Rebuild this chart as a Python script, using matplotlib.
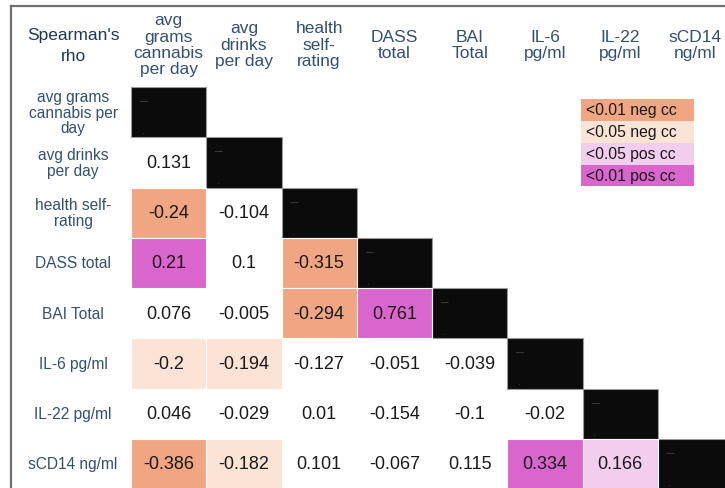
import matplotlib
matplotlib.use("Agg")
import matplotlib.pyplot as plt
from matplotlib.patches import Rectangle
from matplotlib.lines import Line2D

# Spearman correlation matrix (lower triangle only)
variables = [
    "avg grams\ncannabis per\nday",
    "avg drinks\nper day",
    "health self-\nrating",
    "DASS total",
    "BAI Total",
    "IL-6 pg/ml",
    "IL-22 pg/ml",
    "sCD14 ng/ml",
]
headers = [
    "avg\ngrams\ncannabis\nper day",
    "avg\ndrinks\nper day",
    "health\nself-\nrating",
    "DASS\ntotal",
    "BAI\nTotal",
    "IL-6\npg/ml",
    "IL-22\npg/ml",
    "sCD14\nng/ml",
]
rho = [
    [],
    [0.131],
    [-0.24, -0.104],
    [0.21, 0.1, -0.315],
    [0.076, -0.005, -0.294, 0.761],
    [-0.2, -0.194, -0.127, -0.051, -0.039],
    [0.046, -0.029, 0.01, -0.154, -0.1, -0.02],
    [-0.386, -0.182, 0.101, -0.067, 0.115, 0.334, 0.166],
]
# significance level per cell: 0 = n.s., 1 = p<0.05, 2 = p<0.01
sig = [
    [],
    [0],
    [2, 0],
    [2, 0, 2],
    [0, 0, 2, 2],
    [1, 1, 0, 0, 0],
    [0, 0, 0, 0, 0, 0],
    [2, 1, 0, 0, 0, 2, 1],
]
legend_labels = ["<0.01 neg cc", "<0.05 neg cc", "<0.05 pos cc", "<0.01 pos cc"]

NEG_STRONG = "#F0A682"
NEG_WEAK = "#FBE3D6"
POS_WEAK = "#F2CDEE"
POS_STRONG = "#D866CC"
legend_colors = [NEG_STRONG, NEG_WEAK, POS_WEAK, POS_STRONG]

HEAD_COLOR = "#1E3856"
LABEL_COLOR = "#34506E"
VALUE_COLOR = "#1A1A1A"

plt.rcParams["font.family"] = ["Liberation Sans", "DejaVu Sans"]

W, H = 725, 489
fig = plt.figure(figsize=(W / 100, H / 100), dpi=100)

n = len(variables)
# matrix axes: one data unit per cell, rows counted downward
ax = fig.add_axes([131 / W, (H - 490) / H, (733 - 131) / W, (490 - 88) / H])
ax.set_xlim(0, n)
ax.set_ylim(n, 0)
ax.axis("off")


def cell_color(value, level):
    if level == 0:
        return None
    if value < 0:
        return NEG_STRONG if level == 2 else NEG_WEAK
    return POS_STRONG if level == 2 else POS_WEAK


for i in range(n):
    # diagonal
    ax.add_patch(Rectangle((i, i), 1, 1, facecolor="#0B0B0B",
                           edgecolor="#9A9A9A", linewidth=0.8, clip_on=False))
    ax.text(i + 0.12, i + 0.26, "–", fontsize=10, color="#3A3A3A",
            ha="left", va="center", clip_on=False)
    ax.text(i + 0.14, i + 0.86, ".", fontsize=8, color="#3A3A3A",
            ha="left", va="center", clip_on=False)
    for j, (v, s) in enumerate(zip(rho[i], sig[i])):
        c = cell_color(v, s)
        if c is not None:
            ax.add_patch(Rectangle((j, i), 1, 1, facecolor=c,
                                   edgecolor="white", linewidth=0.8))
        ax.text(j + 0.5, i + 0.5, f"{v:g}", fontsize=13, color=VALUE_COLOR,
                ha="center", va="center")

# row labels
for i, name in enumerate(variables):
    ax.text(-0.77, i + 0.5, name, fontsize=11.2, color=LABEL_COLOR,
            ha="center", va="center", linespacing=1.05, clip_on=False)

# column headers
head_font = ["Liberation Sans Narrow", "Liberation Sans"]
for j, name in enumerate(headers):
    ax.text(j + 0.5, -0.85, name, fontsize=12.5, color=LABEL_COLOR,
            ha="center", va="center", linespacing=1.12,
            family=head_font, clip_on=False)
ax.text(-0.77, -0.84, "Spearman's\nrho", fontsize=12.5, color=HEAD_COLOR,
        ha="center", va="center", linespacing=1.5, clip_on=False)

# significance key
key_x, key_y, key_w, key_h = 5.98, 0.24, 1.5, 0.435
for k, (lab, col) in enumerate(zip(legend_labels, legend_colors)):
    ax.add_patch(Rectangle((key_x, key_y + k * key_h), key_w, key_h,
                           facecolor=col, edgecolor="none"))
    ax.text(key_x + 0.07, key_y + (k + 0.5) * key_h, lab, fontsize=11.3,
            color=VALUE_COLOR, ha="left", va="center")

# frame lines along the top and left
fig.add_artist(Line2D([11 / W, 11 / W], [0, 1 - 7 / H], color="#707070",
                      linewidth=1.6, transform=fig.transFigure))
fig.add_artist(Line2D([11 / W, 1], [1 - 7 / H, 1 - 7 / H], color="#707070",
                      linewidth=1.6, transform=fig.transFigure))

fig.savefig("out.png", dpi=100, facecolor="white")
